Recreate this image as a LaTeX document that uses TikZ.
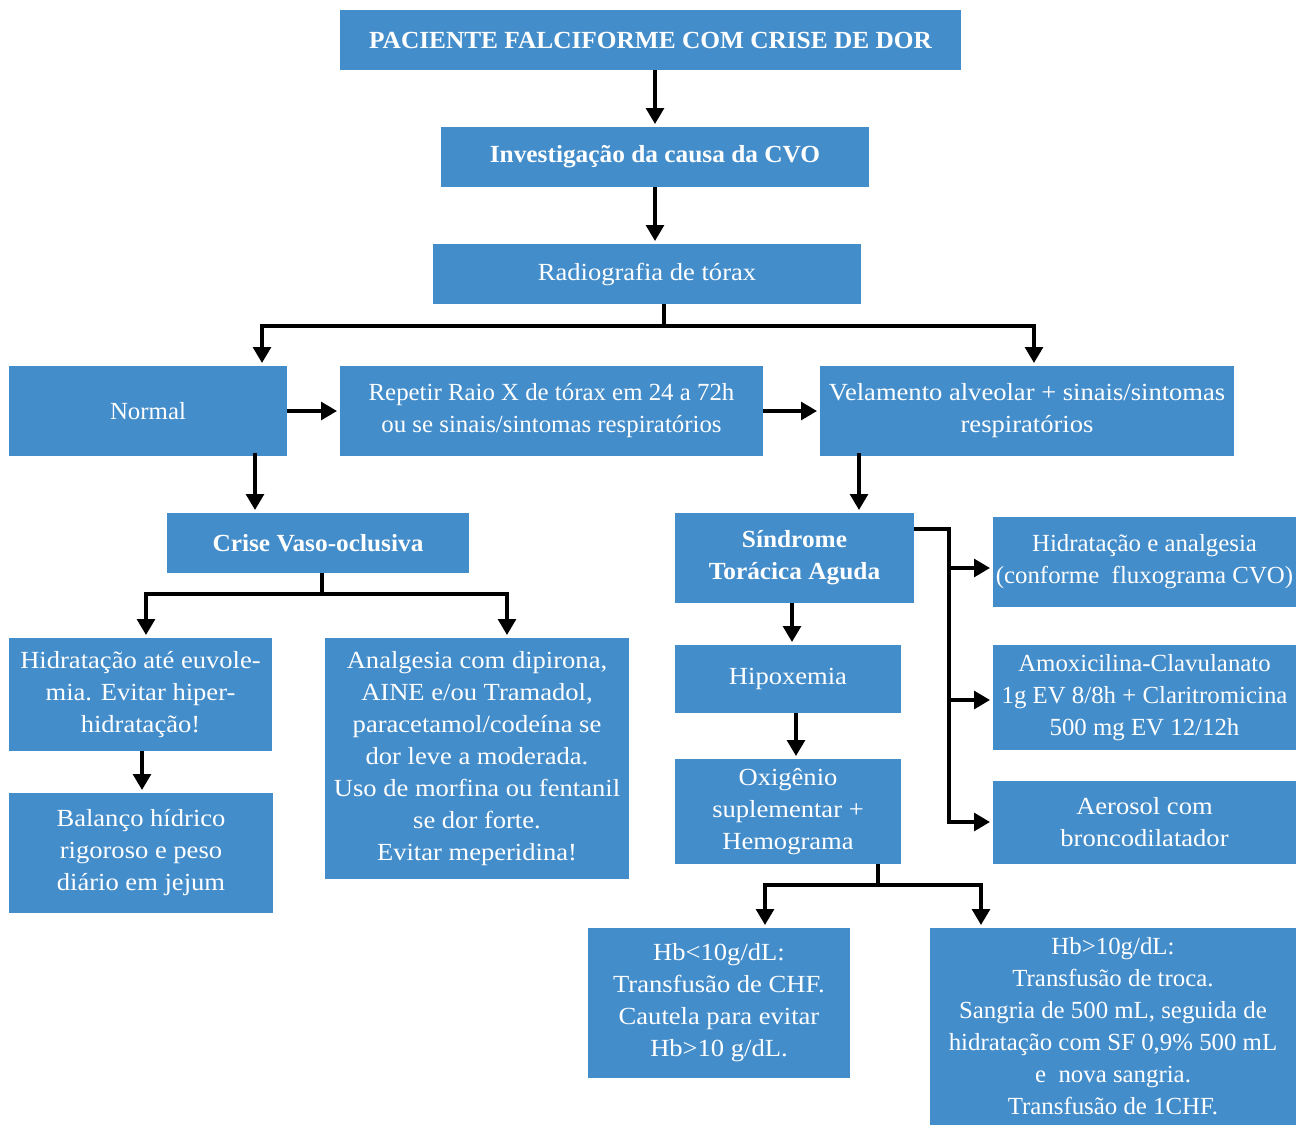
\documentclass[tikz,border=0pt]{standalone}
\usepackage{fontspec}
\setmainfont{Liberation Serif}[FakeStretch=1.08,BoldFeatures={FakeStretch=1.03}]
\newfontfamily\tightfont{Liberation Serif}[FakeStretch=1.01]
\usetikzlibrary{arrows.meta}
\definecolor{boxblue}{RGB}{68,141,203}
\tikzset{
 blk/.style={fill=boxblue, text=white, align=center, inner sep=0pt, font=\fontsize{14}{18.2}\selectfont},
 bld/.style={font=\fontsize{14}{18.2}\selectfont\bfseries},
 tgt/.style={font=\tightfont\fontsize{14}{18.2}\selectfont},
 ln/.style={line width=2pt, draw=black},
 arr/.style={ln, shorten >=1.5pt, -{Triangle[width=10pt,length=9pt]}},
}
\newcommand\mkbox[7][]{\node[blk,#1,minimum width={(#4-#2)*0.02cm},minimum height={(#5-#3)*0.02cm}] (#6) at ({(#2+#4)/2},{(#3+#5)/2}) {#7};}
\begin{document}
\begin{tikzpicture}[x=0.02cm,y=-0.02cm]
\useasboundingbox (0,0) rectangle (1303,1126);
\mkbox[bld]{340}{10}{961}{70}{title}{PACIENTE FALCIFORME COM CRISE DE DOR}
\mkbox[bld]{441}{127}{869}{187}{inv}{Investigação da causa da CVO}
\mkbox{433}{244}{861}{304}{rad}{Radiografia de tórax}
\mkbox[tgt]{9}{366}{287}{456}{norm}{Normal}
\mkbox[tgt]{340}{366}{763}{456}{rep}{Repetir Raio X de tórax em 24 a 72h\\ou se sinais/sintomas respiratórios}
\mkbox{820}{366}{1234}{456}{vel}{Velamento alveolar + sinais/sintomas\\respiratórios}
\mkbox[bld]{167}{513}{469}{573}{cvo}{Crise Vaso-oclusiva}
\mkbox[bld]{675}{513}{914}{603}{sta}{Síndrome\\Torácica Aguda}
\mkbox[tgt]{993}{517}{1296}{607}{hcvo}{Hidratação e analgesia\\(conforme\ \ fluxograma CVO)}
\mkbox{675}{645}{901}{713}{hip}{Hipoxemia}
\mkbox[tgt]{993}{645}{1296}{750}{amox}{Amoxicilina-Clavulanato\\1g EV 8/8h + Claritromicina\\500 mg EV 12/12h}
\mkbox{675}{759}{901}{864}{oxi}{Oxigênio\\suplementar +\\Hemograma}
\mkbox{993}{781}{1296}{864}{aer}{Aerosol com\\broncodilatador}
\mkbox{9}{638}{272}{751}{hid}{Hidratação até euvole-\\mia. Evitar hiper-\\hidratação!}
\mkbox{325}{638}{629}{879}{anal}{Analgesia com dipirona,\\AINE e/ou Tramadol,\\paracetamol/codeína se\\dor leve a moderada.\\Uso de morfina ou fentanil\\se dor forte.\\Evitar meperidina!}
\mkbox{9}{793}{273}{913}{bal}{Balanço hídrico\\rigoroso e peso\\diário em jejum}
\mkbox{588}{928}{850}{1078}{hba}{Hb<10g/dL:\\Transfusão de CHF.\\Cautela para evitar\\Hb>10 g/dL.}
\mkbox[tgt]{930}{928}{1296}{1125}{hbb}{Hb>10g/dL:\\Transfusão de troca.\\Sangria de 500 mL, seguida de\\hidratação com SF 0,9\% 500 mL\\e\ \ nova sangria.\\Transfusão de 1CHF.}
% connectors
\draw[arr] (title.south -| inv.north) -- (inv.north);
\draw[arr] (inv.south) -- (inv.south |- rad.north);
\coordinate (rj) at (664,326);
\coordinate (rl) at (262,326);
\coordinate (rr) at (1034,326);
\draw[ln] (rad.south -| rj) -- (rj);
\draw[arr] (rj) -- (rl) -- (rl |- norm.north);
\draw[arr] (rj) -- (rr) -- (rr |- vel.north);
\draw[arr] (norm.east) -- (rep.west);
\draw[arr] (rep.east) -- (vel.west);
\coordinate (nd) at (255,453);
\draw[arr] (nd) -- (nd |- cvo.north);
\coordinate (vd) at (859,453);
\draw[arr] (vd) -- (vd |- sta.north);
\coordinate (cj) at (322,594);
\coordinate (cl) at (146,594);
\coordinate (cr) at (507,594);
\draw[ln] (cvo.south -| cj) -- (cj);
\draw[arr] (cj) -- (cl) -- (cl |- hid.north);
\draw[arr] (cj) -- (cr) -- (cr |- anal.north);
\coordinate (hd) at (142,751);
\draw[arr] (hd) -- (hd |- bal.north);
\coordinate (sj) at (949,529);
\coordinate (s1) at (949,568);
\coordinate (s2) at (949,700);
\coordinate (s3) at (949,822);
\draw[arr] (sta.east |- sj) -- (sj) -- (s3) -- (s3 -| aer.west);
\draw[arr] (s1) -- (s1 -| hcvo.west);
\draw[arr] (s2) -- (s2 -| amox.west);
\coordinate (sd) at (792,603);
\draw[arr] (sd) -- (sd |- hip.north);
\coordinate (hpd) at (796,713);
\draw[arr] (hpd) -- (hpd |- oxi.north);
\coordinate (oj) at (878,885);
\coordinate (ol) at (765,885);
\coordinate (or) at (981,885);
\draw[ln] (oxi.south -| oj) -- (oj);
\draw[arr] (oj) -- (ol) -- (ol |- hba.north);
\draw[arr] (oj) -- (or) -- (or |- hbb.north);
\end{tikzpicture}
\end{document}
